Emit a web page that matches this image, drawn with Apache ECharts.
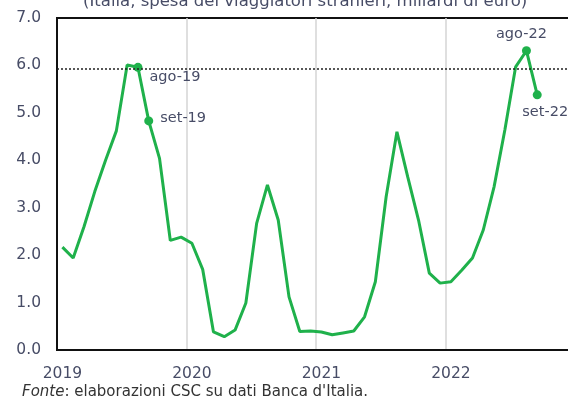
<!DOCTYPE html>
<html>
<head>
<meta charset="utf-8">
<script src="https://cdn.jsdelivr.net/npm/echarts@6/dist/echarts.min.js"></script>
<style>
html,body{margin:0;padding:0;background:#fff;}
#chart{width:568px;height:399px;}
</style>
</head>
<body>
<div id="chart"></div>
<script>
// ---- data ----
const years = [2019, 2020, 2021, 2022];
const monthAbbr = ['gen','feb','mar','apr','mag','giu','lug','ago','set','ott','nov','dic'];
// monthly spending, billions of euro (Jan 2019 - Sep 2022)
const values2019 = [2.17, 1.94, 2.60, 3.34, 4.00, 4.62, 6.01, 5.96, 4.83, 4.04, 2.31, 2.38];
const values2020 = [2.25, 1.70, 0.38, 0.28, 0.42, 0.99, 2.67, 3.48, 2.74, 1.12, 0.39, 0.40];
const values2021 = [0.38, 0.32, 0.36, 0.40, 0.70, 1.44, 3.23, 4.60, 3.65, 2.74, 1.62, 1.41];
const values2022 = [1.44, 1.68, 1.94, 2.53, 3.44, 4.64, 5.97, 6.31, 5.38];
const refLevel = 5.92;
const markedMonths = ['ago-19', 'set-19', 'ago-22', 'set-22'];
const yTicks = [0, 1, 2, 3, 4, 5, 6, 7];
const titleText = '(Italia, spesa dei viaggiatori stranieri, miliardi di euro)';
const sourceText = "elaborazioni CSC su dati Banca d'Italia.";

// ---- build ----
const categories = [];
years.forEach(y => monthAbbr.forEach(m => categories.push(m + '-' + String(y).slice(2))));
const values = [].concat(values2019, values2020, values2021, values2022);

const FONT = '"DejaVu Sans", sans-serif';
const labelStyles = {
  'ago-19': {position: 'right', distance: 7, offset: [0, 10]},
  'set-19': {position: 'right', distance: 7, offset: [0, -3]},
  'ago-22': {position: 'top', distance: 4, offset: [-5, 0]},
  'set-22': {position: 'bottom', distance: 5, offset: [8, 0]}
};
const textColor = '#474c66';
const green = '#1fb14b';

const seriesData = values.map((v, i) => {
  const name = categories[i];
  if (markedMonths.indexOf(name) >= 0) {
    const ls = labelStyles[name];
    return {
      value: v,
      symbol: 'circle',
      symbolSize: 9,
      label: {show: true, formatter: name, position: ls.position, distance: ls.distance,
               offset: ls.offset, color: textColor, fontSize: 14.5, fontFamily: FONT}
    };
  }
  return {value: v, symbol: 'none'};
});

const chart = echarts.init(document.getElementById('chart'), null, {renderer: 'canvas'});
chart.setOption({
  animation: false,
  backgroundColor: '#fff',
  title: {
    text: titleText, left: 78, top: -12,
    textStyle: {fontSize: 16.5, fontWeight: 'normal', color: textColor, fontFamily: FONT}
  },
  graphic: [{
    type: 'text', left: 22, top: 385,
    style: {
      text: '{i|Fonte}: ' + sourceText,
      fontSize: 15, fontFamily: FONT, fill: '#333',
      rich: {i: {fontStyle: 'italic', fontSize: 15, fontFamily: FONT, fill: '#333'}}
    }
  }],
  grid: {
    left: 57, right: -7, top: 18, bottom: 49,
    outerBoundsMode: 'none', containLabel: false,
    show: true, borderColor: '#111', borderWidth: 2, backgroundColor: 'transparent'
  },
  xAxis: {
    type: 'category',
    data: categories,
    boundaryGap: true,
    axisLine: {show: true, lineStyle: {color: '#111', width: 2}},
    axisTick: {show: false},
    axisLabel: {
      interval: (i) => i % 12 === 0,
      formatter: (v) => '20' + v.split('-')[1],
      color: textColor, fontSize: 15.5, margin: 16, fontFamily: FONT
    },
    splitLine: {show: true, interval: (i) => i % 12 === 0 && i > 0,
                lineStyle: {color: '#d4d4d4', width: 1.5}}
  },
  yAxis: {
    type: 'value', min: yTicks[0], max: yTicks[yTicks.length - 1], interval: 1,
    axisLine: {show: true, lineStyle: {color: '#111', width: 2}},
    axisTick: {show: false},
    splitLine: {show: false},
    axisLabel: {formatter: (v) => v.toFixed(1), color: textColor, fontSize: 15.5, margin: 16, fontFamily: FONT}
  },
  series: [{
    type: 'line',
    data: seriesData,
    symbol: 'none',
    showSymbol: true,
    itemStyle: {color: green},
    lineStyle: {color: green, width: 3},
    markLine: {
      silent: true, symbol: 'none', label: {show: false},
      lineStyle: {color: '#222', type: [2, 2], width: 1.5},
      data: [{yAxis: refLevel}]
    }
  }]
});
</script>
</body>
</html>
